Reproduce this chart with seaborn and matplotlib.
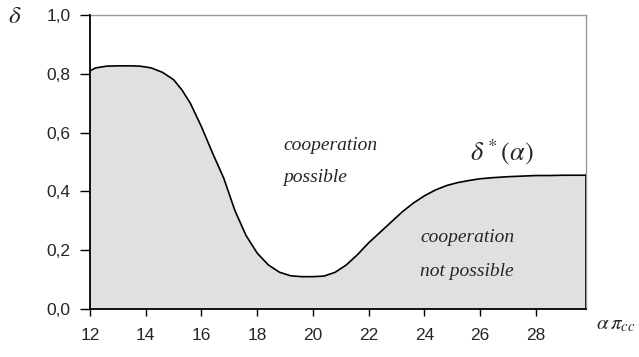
import matplotlib
matplotlib.use("Agg")
import matplotlib.pyplot as plt
import seaborn as sns
import pandas as pd

# data
alpha_pi = [12, 12.2, 12.6, 13, 13.5, 13.8, 14.2, 14.6, 15, 15.3, 15.6, 16, 16.4,
            16.8, 17.2, 17.6, 18, 18.4, 18.8, 19.2, 19.6, 20, 20.4, 20.8, 21.2,
            21.6, 22, 22.4, 22.8, 23.2, 23.6, 24, 24.4, 24.8, 25.2, 25.6, 26,
            26.5, 27, 27.5, 28, 28.5, 29, 29.8]
delta_star = [0.81, 0.82, 0.826, 0.827, 0.827, 0.826, 0.82, 0.805, 0.78, 0.745,
              0.70, 0.62, 0.53, 0.445, 0.335, 0.25, 0.19, 0.15, 0.125, 0.113,
              0.11, 0.11, 0.112, 0.125, 0.15, 0.185, 0.225, 0.26, 0.295, 0.33,
              0.36, 0.385, 0.405, 0.42, 0.43, 0.437, 0.443, 0.447, 0.45, 0.452,
              0.454, 0.454, 0.455, 0.455]
x_ticks = [12, 14, 16, 18, 20, 22, 24, 26, 28]
y_ticks = [0.0, 0.2, 0.4, 0.6, 0.8, 1.0]
y_tick_labels = ["0,0", "0,2", "0,4", "0,6", "0,8", "1,0"]

df = pd.DataFrame({"alpha_pi": alpha_pi, "delta": delta_star})

sns.set_style("white")
plt.rcParams["font.family"] = ["Liberation Sans", "DejaVu Sans"]
plt.rcParams["mathtext.fontset"] = "stix"

fig = plt.figure(figsize=(6.39, 3.57), dpi=100)
ax = fig.add_axes([90 / 639, 48 / 357, (586 - 90) / 639, (309 - 15) / 357])

ax.fill_between(df["alpha_pi"], 0, df["delta"], facecolor="#e0e0e0",
                edgecolor="none", zorder=1)
sns.lineplot(data=df, x="alpha_pi", y="delta", color="black", linewidth=1.2,
             ax=ax, zorder=3)
# right edge of the shaded region
ax.plot([alpha_pi[-1], alpha_pi[-1]], [0, delta_star[-1]], color="black",
        linewidth=1.2, zorder=3)

ax.set_xlim(12, alpha_pi[-1])
ax.set_ylim(0, 1.0)
ax.set_xticks(x_ticks)
ax.set_xticklabels([str(t) for t in x_ticks], fontsize=12.5)
ax.set_yticks(y_ticks)
ax.set_yticklabels(y_tick_labels, fontsize=12.5)
ax.set_xlabel("")
ax.set_ylabel("")

ax.tick_params(axis="x", direction="inout", length=10, width=1, color="black",
               pad=9, bottom=True)
ax.tick_params(axis="y", direction="out", length=7, width=1, color="black",
               pad=7, left=True)

for s in ["left", "bottom"]:
    ax.spines[s].set_color("black")
    ax.spines[s].set_linewidth(1.3)
    ax.spines[s].set_zorder(4)
for s in ["top", "right"]:
    ax.spines[s].set_color("#999999")
    ax.spines[s].set_linewidth(1.0)

serif = ["Liberation Serif", "DejaVu Serif"]
txt = dict(fontsize=14, style="italic", family=serif, va="center", ha="left")
fig.text(283 / 639, 1 - 145 / 357, "cooperation", **txt)
fig.text(283 / 639, 1 - 177 / 357, "possible", **txt)
fig.text(420 / 639, 1 - 238 / 357, "cooperation", **txt)
fig.text(420 / 639, 1 - 272 / 357, "not possible", **txt)
fig.text(470 / 639, 1 - 152 / 357, r"$\delta^*(\alpha)$", fontsize=19,
         va="center", ha="left")
fig.text(8 / 639, 1 - 16 / 357, r"$\delta$", fontsize=18, va="center",
         ha="left")
fig.text(596 / 639, 1 - 325 / 357, r"$\alpha\,\pi_{cc}$", fontsize=15,
         va="center", ha="left")

fig.savefig("out.png", dpi=100)
